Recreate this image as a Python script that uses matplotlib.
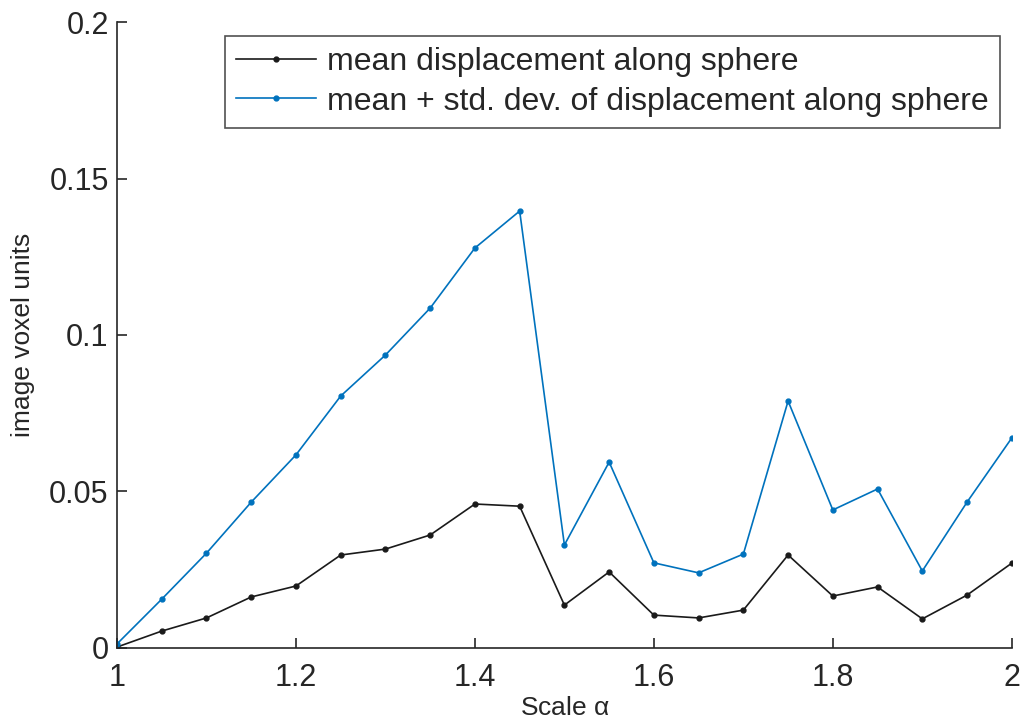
import matplotlib
matplotlib.use("Agg")
import matplotlib.pyplot as plt

plt.rcParams['font.family'] = ['Liberation Sans', 'DejaVu Sans']

scale = [1.00, 1.05, 1.10, 1.15, 1.20, 1.25, 1.30, 1.35, 1.40, 1.45, 1.50,
         1.55, 1.60, 1.65, 1.70, 1.75, 1.80, 1.85, 1.90, 1.95, 2.00]
mean_disp = [0.0003, 0.0054, 0.0096, 0.0163, 0.0198, 0.0297, 0.0316, 0.0361, 0.0460, 0.0453, 0.0137,
             0.0243, 0.0105, 0.0096, 0.0121, 0.0297, 0.0166, 0.0195, 0.0093, 0.0169, 0.0271]
mean_plus_std = [0.0013, 0.0156, 0.0303, 0.0466, 0.0617, 0.0805, 0.0936, 0.1086, 0.1278, 0.1396, 0.0329,
                 0.0594, 0.0272, 0.0240, 0.0300, 0.0789, 0.0441, 0.0508, 0.0246, 0.0466, 0.0671]
xticks = [1, 1.2, 1.4, 1.6, 1.8, 2]
xticklabels = ['1', '1.2', '1.4', '1.6', '1.8', '2']
yticks = [0, 0.05, 0.1, 0.15, 0.2]
yticklabels = ['0', '0.05', '0.1', '0.15', '0.2']

fig = plt.figure(figsize=(10.22, 7.24), dpi=100)
ax = fig.add_axes([0.1145, 0.105, 0.8755, 0.8646])

ax.plot(scale, mean_disp, '-', color='#1a1a1a', lw=1.2, marker='o', ms=3.5,
        label='mean displacement along sphere')
ax.plot(scale, mean_plus_std, '-', color='#0072BD', lw=1.2, marker='o', ms=3.5,
        label='mean + std. dev. of displacement along sphere')

ax.set_xlim(1, 2)
ax.set_ylim(0, 0.2)
ax.set_xticks(xticks)
ax.set_xticklabels(xticklabels)
ax.set_yticks(yticks)
ax.set_yticklabels(yticklabels)
ax.spines['top'].set_visible(False)
ax.spines['right'].set_visible(False)
for s in ['left', 'bottom']:
    ax.spines[s].set_color('#262626')
    ax.spines[s].set_linewidth(1.2)
ax.tick_params(direction='in', length=7, width=1.2, colors='#262626', labelsize=22, pad=6)
ax.tick_params(axis='x', pad=11)

ax.set_xlabel(r'Scale $\mathregular{\alpha}$', fontsize=19, color='#262626', labelpad=2)
ax.set_ylabel('image voxel units', fontsize=19, color='#262626', labelpad=10)

leg = ax.legend(loc='upper right', bbox_to_anchor=(0.987, 0.978), fontsize=23,
                frameon=True, fancybox=False, edgecolor='#262626', numpoints=1,
                handlelength=2.5, handletextpad=0.35, borderpad=0.35, labelspacing=0.3,
                borderaxespad=0)
leg.get_frame().set_linewidth(1.2)
for t in leg.get_texts():
    t.set_color('#262626')

fig.savefig('out.png', dpi=100)
